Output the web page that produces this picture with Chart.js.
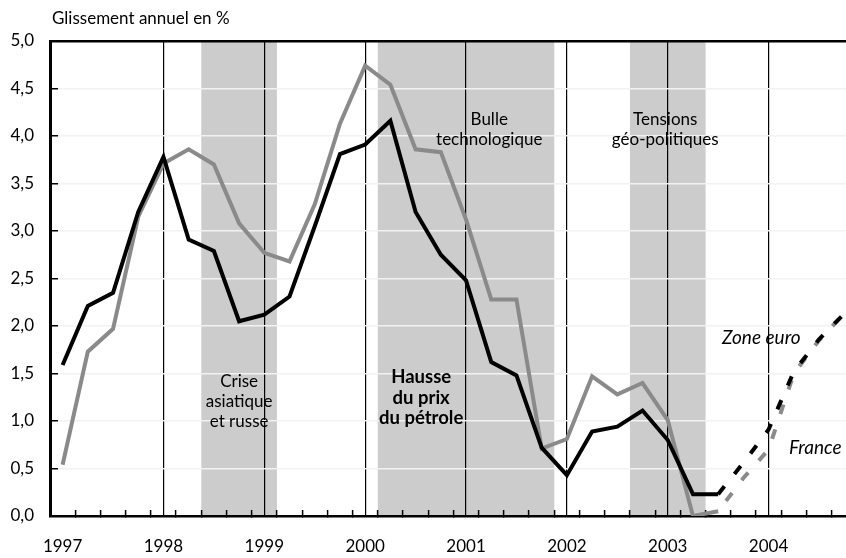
<!DOCTYPE html>
<html lang="fr">
<head>
<meta charset="utf-8">
<title>Glissement annuel en %</title>
<script src="https://cdn.jsdelivr.net/npm/chart.js@4.4.1/dist/chart.umd.min.js"></script>
<style>
  html, body { margin: 0; padding: 0; background: #fff; }
  #wrap { width: 846px; height: 558px; overflow: hidden; }
</style>
</head>
<body>
<div id="wrap"><canvas id="chart" width="846" height="558"></canvas></div>
<script>
// quarterly data, 1997 T1 .. 2004 T4
const years = ["1997", "1998", "1999", "2000", "2001", "2002", "2003", "2004"];
const zoneEuro = [1.59, 2.21, 2.35, 3.20, 3.78, 2.91, 2.79, 2.05, 2.12, 2.31, 3.05, 3.81, 3.91, 4.16, 3.20, 2.75,
                  2.48, 1.62, 1.48, 0.72, 0.43, 0.89, 0.94, 1.11, 0.80, 0.23, 0.23, 0.56, 0.91, 1.52, 1.86, 2.13];
const france = [0.54, 1.73, 1.97, 3.15, 3.71, 3.86, 3.70, 3.08, 2.77, 2.68, 3.28, 4.13, 4.74, 4.54, 3.86, 3.83,
                3.12, 2.28, 2.28, 0.71, 0.81, 1.47, 1.28, 1.40, 1.01, 0.00, 0.05, 0.40, 0.70, 1.50, 1.85, 2.13];
const forecastFrom = 26; // prévision (pointillés) à partir de cet indice

// périodes grisées (en trimestres)
const bandStarts = [5.5, 12.5, 22.5];
const bandEnds = [8.5, 19.5, 25.5];

const FONT = "Lato, 'Open Sans', sans-serif";
const GREY = "#8a8a8a";

const annotations = [
  { lines: ["Crise", "asiatique", "et russe"], x: 7, y: 1.42, font: "17px " + FONT, step: 0.215 },
  { lines: ["Hausse", "du prix", "du pétrole"], x: 14.22, y: 1.46, font: "bold 18.5px " + FONT, step: 0.215 },
  { lines: ["Bulle", "technologique"], x: 16.92, y: 4.17, font: "17px " + FONT, step: 0.21 },
  { lines: ["Tensions", "géo-politiques"], x: 23.9, y: 4.17, font: "17px " + FONT, step: 0.21 },
  { lines: ["Zone euro"], x: 27.71, y: 1.88, font: "italic 19px " + FONT, step: 0 },
  { lines: ["France"], x: 29.85, y: 0.72, font: "italic 19px " + FONT, step: 0 },
];

function toPoints(values) {
  return values.map((v, i) => ({ x: i, y: v }));
}

function dashAfterForecast(ctx) {
  return ctx.p0DataIndex >= forecastFrom ? [10, 16] : undefined;
}

const bandsPlugin = {
  id: "bands",
  beforeDraw(chart) {
    const { ctx, chartArea, scales } = chart;
    ctx.save();
    ctx.fillStyle = "#cccccc";
    bandStarts.forEach((start, i) => {
      const x1 = scales.x.getPixelForValue(start);
      const x2 = scales.x.getPixelForValue(bandEnds[i]);
      ctx.fillRect(x1, chartArea.top, x2 - x1, chartArea.bottom - chartArea.top);
    });
    ctx.restore();
  },
};

const textPlugin = {
  id: "texts",
  afterDatasetsDraw(chart) {
    const { ctx, chartArea, scales } = chart;
    ctx.save();
    ctx.fillStyle = "#000";
    ctx.textBaseline = "middle";

    ctx.font = "17px " + FONT;
    ctx.textAlign = "left";
    ctx.fillText("Glissement annuel en %", chartArea.left + 2, 19);

    ctx.textAlign = "center";
    annotations.forEach((a) => {
      ctx.font = a.font;
      a.lines.forEach((line, i) => {
        ctx.fillText(line, scales.x.getPixelForValue(a.x), scales.y.getPixelForValue(a.y - i * a.step));
      });
    });
    ctx.restore();
  },
};

function buildChart(canvas) {
  const xMin = -0.5;
  const xMax = 31.07;

  return new Chart(canvas, {
    type: "line",
    data: {
      datasets: [
        {
          label: "Zone euro",
          data: toPoints(zoneEuro),
          borderColor: "#000",
          borderWidth: 4,
          pointRadius: 0,
          tension: 0,
          segment: { borderDash: dashAfterForecast },
        },
        {
          label: "France",
          data: toPoints(france),
          borderColor: GREY,
          borderWidth: 4,
          pointRadius: 0,
          tension: 0,
          segment: { borderDash: dashAfterForecast, borderDashOffset: () => 13 },
        },
      ],
    },
    options: {
      responsive: false,
      animation: false,
      devicePixelRatio: 1,
      layout: { padding: 0 },
      plugins: {
        legend: { display: false },
        tooltip: { enabled: false },
      },
      scales: {
        x: {
          type: "linear",
          position: "bottom",
          min: xMin,
          max: xMax,
          afterBuildTicks(axis) {
            const list = [];
            for (let i = 0; i < zoneEuro.length - 1; i++) list.push({ value: i + 0.5 });
            years.forEach((y, i) => list.push({ value: i * 4 }));
            axis.ticks = list;
          },
          afterFit(axis) {
            axis.height = 42;
            axis.paddingLeft = 0;
            axis.paddingRight = 0;
          },
          ticks: {
            autoSkip: false,
            maxRotation: 0,
            minRotation: 0,
            padding: 26,
            color: "#000",
            font: { family: FONT, size: 17 },
            callback(value) {
              return value % 4 === 0 ? years[value / 4] : "";
            },
          },
          grid: {
            drawOnChartArea: true,
            color(ctx) {
              const v = ctx.tick ? ctx.tick.value : 0;
              return v % 4 === 0 && v > 0 ? "#000" : "rgba(0,0,0,0)";
            },
            lineWidth: 1.2,
            tickLength: -6,
            tickWidth: 1.5,
            tickColor(ctx) {
              const v = ctx.tick ? ctx.tick.value : 0;
              return v % 1 !== 0 ? "#000" : "rgba(0,0,0,0)";
            },
          },
          border: { display: true, color: "#000", width: 2.5 },
        },
        xTop: {
          type: "linear",
          position: "top",
          min: xMin,
          max: xMax,
          afterFit(axis) {
            axis.height = 41;
          },
          ticks: { display: false },
          grid: { display: false },
          border: { display: true, color: "#000", width: 2.5 },
        },
        y: {
          type: "linear",
          min: 0,
          max: 5,
          afterFit(axis) {
            axis.width = 50;
            axis.paddingTop = 0;
            axis.paddingBottom = 0;
          },
          ticks: {
            stepSize: 0.5,
            padding: 24,
            color: "#000",
            font: { family: FONT, size: 17 },
            callback(value) {
              return value.toFixed(1).replace(".", ",");
            },
          },
          grid: {
            color: "#f2f2f2",
            lineWidth: 1.5,
            tickLength: -8,
            tickColor: "#000",
            tickWidth: 1.5,
            z: -1,
          },
          border: { color: "#000", width: 3 },
        },
      },
    },
    plugins: [bandsPlugin, textPlugin],
  });
}

buildChart(document.getElementById("chart"));
</script>
</body>
</html>
